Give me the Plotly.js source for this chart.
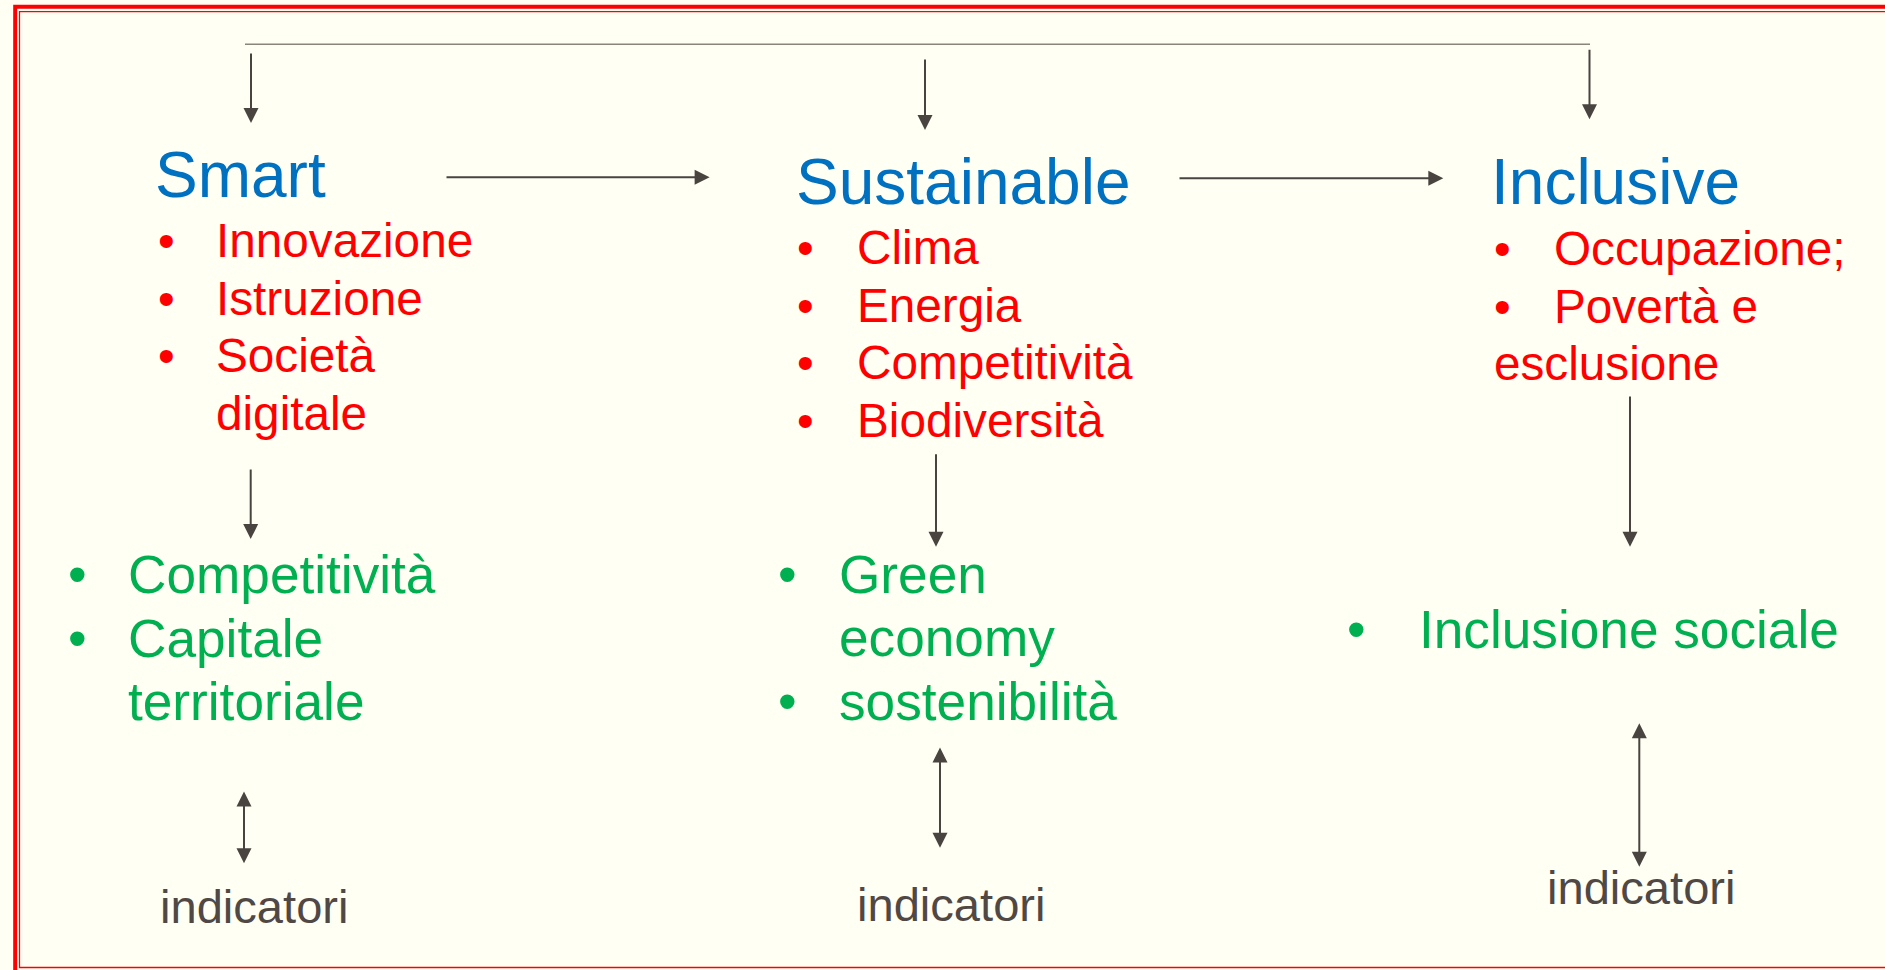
<!DOCTYPE html>
<html>
<head>
<meta charset="utf-8">
<script src="https://cdn.plot.ly/plotly-3.0.1.min.js"></script>
<style>html,body{margin:0;padding:0;background:#FFFFF4;}#chart{width:1885px;height:970px;}</style>
</head>
<body>
<div id="chart"></div>
<script>
// ---------- content ----------
const titles = ["Smart", "Sustainable", "Inclusive"];
const redSmart = [["Innovazione"], ["Istruzione"], ["Società", "digitale"]];
const redSustainable = [["Clima"], ["Energia"], ["Competitività"], ["Biodiversità"]];
const redInclusive = [["Occupazione;"], ["Povertà e", "esclusione"]];
const greenSmart = [["Competitività"], ["Capitale", "territoriale"]];
const greenSustainable = [["Green", "economy"], ["sostenibilità"]];
const greenInclusive = [["Inclusione sociale"]];
const indicatorLabels = ["indicatori", "indicatori", "indicatori"];
const bulletChar = "•";

// ---------- styling / layout ----------
const FONT = "Arial, 'Liberation Sans', Helvetica, sans-serif";
const BG = "#FFFFF4";
const BLUE = "#0070C0", RED = "#FF0000", GREEN = "#00B050", DARK = "#504844";
const ARROW = "#4A4441", TOPLINE = "#8A847D";
const FS_TITLE = 64, FS_RED = 47.7, FS_GREEN = 53.2, FS_IND = 47.1;
const RED_STEP = 57.6, GREEN_STEP = 63.5;
const DX = 2.4; // text start offset

const redLists = [redSmart, redSustainable, redInclusive];
const greenLists = [greenSmart, greenSustainable, greenInclusive];

const cols = [
  {titleX:155, titleBase:197,
   redBulletX:166, redTextX:214, redBase:257.3, redContX:214,
   greenBulletX:77.5, greenTextX:126, greenBase:593.3, greenContX:126,
   indX:158, indBase:923,
   topArrow:[251,52,123], midArrow:[250.7,468,539], dblArrow:[244,790,863.3]},
  {titleX:796, titleBase:204.3,
   redBulletX:805.5, redTextX:855, redBase:264.3, redContX:855,
   greenBulletX:787.5, greenTextX:836.5, greenBase:592.7, greenContX:836.5,
   indX:855, indBase:921,
   topArrow:[925,58,130], midArrow:[936,452.7,546.7], dblArrow:[940,746,847.7]},
  {titleX:1491, titleBase:204,
   redBulletX:1502, redTextX:1552, redBase:265, redContX:1492,
   greenBulletX:1356, greenTextX:1417, greenBase:647.7, greenContX:1417,
   indX:1545, indBase:904,
   topArrow:[1589.5,48.3,119.3], midArrow:[1630,395,546.7], dblArrow:[1639.3,721.7,866.7]}
];
const topLine = {x0:245, x1:1590, y:44.3};
const hArrows = [[445, 709.6, 177.3], [1178, 1443.3, 178.3]];

// ---------- builders ----------
const annotations = [];
const shapes = [];

function textAnn(text, x, base, fs, color, anchor) {
  annotations.push({
    xref:'x', yref:'y', x:x, y: base - 0.3465*fs,
    text:text, showarrow:false, xanchor: anchor || 'left', yanchor:'middle',
    borderpad:0, borderwidth:0,
    font:{family:FONT, size:fs, color:color}
  });
}
function arrowAnn(x0, y0, x1, y1, both) {
  const a = {
    xref:'x', yref:'y', axref:'x', ayref:'y',
    x:x1, y:y1, ax:x0, ay:y0, text:'', showarrow:true,
    arrowhead:2, arrowsize:1.5, arrowwidth:2, arrowcolor:ARROW, standoff:0
  };
  if (both) {
    a.arrowside = 'end+start';
    a.startarrowhead = 2; a.startarrowsize = 1.5; a.startstandoff = 0;
  }
  annotations.push(a);
}
function bulletList(list, bx, tx, cx, base0, step, fs, color) {
  let line = 0;
  list.forEach(item => {
    item.forEach((t, k) => {
      const base = base0 + line*step;
      if (k === 0) textAnn(bulletChar, bx, base, fs, color, 'center');
      textAnn(t, (k === 0 ? tx : cx) + DX, base, fs, color, 'left');
      line++;
    });
  });
}

cols.forEach((c, i) => {
  textAnn(titles[i], c.titleX, c.titleBase, FS_TITLE, BLUE, 'left');
  bulletList(redLists[i], c.redBulletX, c.redTextX, c.redContX, c.redBase, RED_STEP, FS_RED, RED);
  bulletList(greenLists[i], c.greenBulletX, c.greenTextX, c.greenContX, c.greenBase, GREEN_STEP, FS_GREEN, GREEN);
  textAnn(indicatorLabels[i], c.indX + DX, c.indBase, FS_IND, DARK, 'left');
  arrowAnn(c.topArrow[0], c.topArrow[1], c.topArrow[0], c.topArrow[2], false);
  arrowAnn(c.midArrow[0], c.midArrow[1], c.midArrow[0], c.midArrow[2], false);
  arrowAnn(c.dblArrow[0], c.dblArrow[1], c.dblArrow[0], c.dblArrow[2], true);
});
hArrows.forEach(h => arrowAnn(h[0], h[2], h[1], h[2], false));

shapes.push({type:'line', xref:'x', yref:'y', x0:topLine.x0, x1:topLine.x1, y0:topLine.y, y1:topLine.y,
             line:{color:TOPLINE, width:1.5}});
// double red frame
shapes.push({type:'rect', xref:'x', yref:'y', x0:15.2, y0:6.7, x1:1905, y1:974, line:{color:RED, width:4}});
shapes.push({type:'rect', xref:'x', yref:'y', x0:19.5, y0:11.7, x1:1900, y1:967.5, line:{color:RED, width:1.3}});

const layout = {
  width:1885, height:970,
  margin:{l:0, r:0, t:0, b:0, pad:0},
  paper_bgcolor:BG, plot_bgcolor:BG,
  showlegend:false,
  xaxis:{range:[0,1885], visible:false, fixedrange:true},
  yaxis:{range:[970,0], visible:false, fixedrange:true},
  shapes:shapes,
  annotations:annotations
};
Plotly.newPlot('chart', [], layout, {staticPlot:true, displayModeBar:false});
</script>
</body>
</html>
